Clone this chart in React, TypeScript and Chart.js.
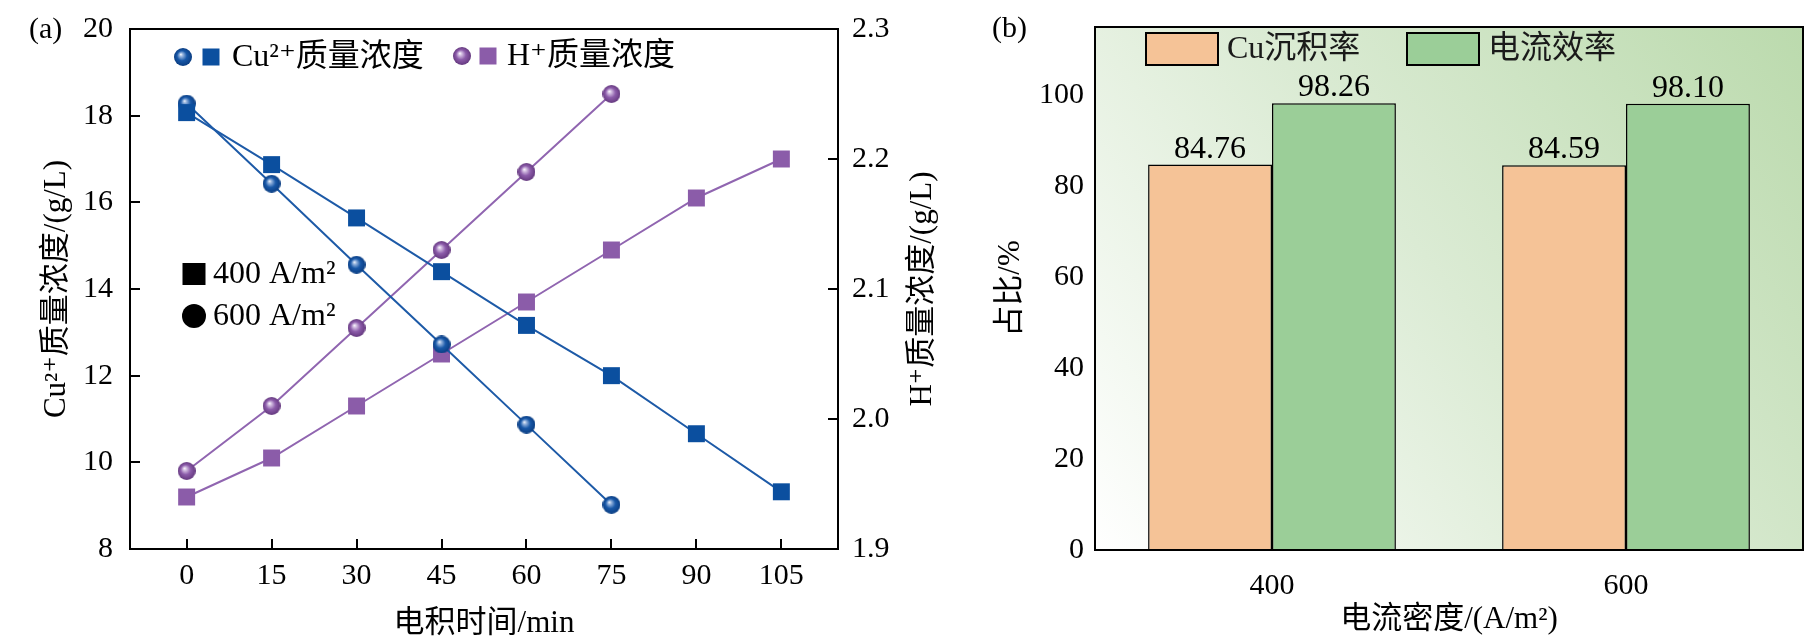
import { useEffect, useRef } from 'react';
import { Chart, registerables, type ChartConfiguration, type Plugin, type Scale } from 'chart.js';

Chart.register(...registerables);

const FONT = '"Liberation Serif", "DejaVu Serif", "Noto Sans CJK SC", serif';
const TICK_FS = 30; // tick labels
const TITLE_FS = 31; // axis titles
const LEGEND_FS = 32; // legend + value labels

// (a) electrowinning time series
const timeTicks = [0, 15, 30, 45, 60, 75, 90, 105];
const time400 = [0, 15, 30, 45, 60, 75, 90, 105];
const time600 = [0, 15, 30, 45, 60, 75];
const cu400 = [18.07, 16.87, 15.64, 14.4, 13.16, 12.0, 10.66, 9.32];
const cu600 = [18.28, 16.43, 14.56, 12.72, 10.87, 9.02];
const h400 = [1.94, 1.97, 2.01, 2.05, 2.09, 2.13, 2.17, 2.2];
const h600 = [1.96, 2.01, 2.07, 2.13, 2.19, 2.25];
const cuTicks = [8, 10, 12, 14, 16, 18, 20];
const hTicks = [1.9, 2.0, 2.1, 2.2, 2.3];

// (b) deposition / current efficiency
const densities = ['400', '600'];
const depositRate = [84.76, 84.59];
const currentEff = [98.26, 98.1];
const pctTicks = [0, 20, 40, 60, 80, 100];

const BLUE = '#0b4f9f';
const BLUE_LINE = '#1d5aa7';
const PURPLE = '#8b5ca9';
const PURPLE_LINE = '#9065b0';
const ORANGE = '#f5c397';
const GREEN = '#9bce98';

const tickFont = { family: FONT, size: TICK_FS };
const titleFont = { family: FONT, size: TITLE_FS, lineHeight: 1 };

function sphere(base: string, light: string, dark: string, r = 9): HTMLCanvasElement {
  const c = document.createElement('canvas');
  c.width = r * 2;
  c.height = r * 2;
  const g = c.getContext('2d')!;
  const grad = g.createRadialGradient(r * 0.75, r * 0.7, 0, r, r, r);
  grad.addColorStop(0, '#ffffff');
  grad.addColorStop(0.18, light);
  grad.addColorStop(0.55, base);
  grad.addColorStop(1, dark);
  g.fillStyle = grad;
  g.beginPath();
  g.arc(r, r, r, 0, Math.PI * 2);
  g.fill();
  return c;
}

const pts = (xs: number[], ys: number[]) => xs.map((x, i) => ({ x, y: ys[i] }));

// fix the scale's size and stop its label padding from moving the chart area
function fixSize(dim: 'width' | 'height', px: number) {
  return (s: Scale) => {
    s[dim] = px;
    const p = s as any;
    p.paddingTop = p.paddingBottom = p.paddingLeft = p.paddingRight = 0;
  };
}

// negative tick length = tick marks pointing into the plot
function inwardAxis(tickLength: number) {
  return {
    grid: { drawOnChartArea: false, tickLength, color: '#000', lineWidth: 2 },
    border: { display: true, color: '#000', width: 2 },
  };
}

function LeftChart() {
  const ref = useRef<HTMLCanvasElement>(null);
  useEffect(() => {
    if (!ref.current) return;
    const blueBall = sphere('#1858a8', '#9bb8e0', '#0a3d82');
    const purpleBall = sphere('#8c5caa', '#d6c2e4', '#65397f');

    const decor: Plugin<'line'> = {
      id: 'decorA',
      afterDraw(chart) {
        const { ctx, chartArea: a } = chart;
        ctx.save();
        ctx.strokeStyle = '#000';
        ctx.lineWidth = 2;
        ctx.strokeRect(a.left, a.top, a.right - a.left, a.bottom - a.top);
        ctx.fillStyle = '#000';
        ctx.textBaseline = 'middle';
        ctx.textAlign = 'left';
        ctx.font = `${TICK_FS}px ${FONT}`;
        ctx.fillText('(a)', 29, 30);

        // series legend
        ctx.font = `${LEGEND_FS}px ${FONT}`;
        ctx.drawImage(blueBall, 183 - 9, 57 - 9);
        ctx.fillStyle = BLUE;
        ctx.fillRect(211 - 8.5, 57 - 8.5, 17, 17);
        ctx.fillStyle = '#000';
        ctx.fillText('Cu²⁺质量浓度', 232, 58);
        ctx.drawImage(purpleBall, 462 - 9, 56 - 9);
        ctx.fillStyle = PURPLE;
        ctx.fillRect(488 - 8.5, 56 - 8.5, 17, 17);
        ctx.fillStyle = '#000';
        ctx.fillText('H⁺质量浓度', 507, 57);

        // marker legend
        ctx.fillRect(194 - 11.5, 274 - 11, 23, 22);
        ctx.fillText('400 A/m²', 213, 275);
        ctx.beginPath();
        ctx.arc(194, 316, 12, 0, Math.PI * 2);
        ctx.fill();
        ctx.fillText('600 A/m²', 213, 317);

        // right axis title (reads bottom to top)
        ctx.font = `${TITLE_FS}px ${FONT}`;
        ctx.translate(923, (a.top + a.bottom) / 2);
        ctx.rotate(-Math.PI / 2);
        ctx.textAlign = 'center';
        ctx.fillText('H⁺质量浓度/(g/L)', 0, 0);
        ctx.restore();
      },
    };

    const config: ChartConfiguration<'line'> = {
      type: 'line',
      data: {
        datasets: [
          { label: 'Cu 400', data: pts(time400, cu400), yAxisID: 'y', borderColor: BLUE_LINE, borderWidth: 2,
            pointStyle: 'rect', pointRadius: 12, pointBackgroundColor: BLUE, pointBorderWidth: 0 },
          { label: 'Cu 600', data: pts(time600, cu600), yAxisID: 'y', borderColor: BLUE_LINE, borderWidth: 2,
            pointStyle: blueBall, pointRadius: 9 },
          { label: 'H 400', data: pts(time400, h400), yAxisID: 'y1', borderColor: PURPLE_LINE, borderWidth: 2,
            pointStyle: 'rect', pointRadius: 12, pointBackgroundColor: PURPLE, pointBorderWidth: 0 },
          { label: 'H 600', data: pts(time600, h600), yAxisID: 'y1', borderColor: PURPLE_LINE, borderWidth: 2,
            pointStyle: purpleBall, pointRadius: 9 },
        ],
      },
      options: {
        animation: false,
        responsive: false,
        layout: { padding: { top: 29, left: 0, right: 0, bottom: 0 } },
        plugins: { legend: { display: false }, tooltip: { enabled: false } },
        scales: {
          x: {
            type: 'linear',
            min: -10,
            max: 115,
            afterBuildTicks: (s) => { s.ticks = timeTicks.map((value) => ({ value })); },
            afterFit: fixSize('height', 92),
            ticks: { padding: 19, color: '#000', font: tickFont },
            ...inwardAxis(-10),
            title: { display: true, text: '电积时间/min', color: '#000', font: titleFont, padding: { top: 0, bottom: 1.5 } },
          },
          y: {
            type: 'linear',
            position: 'left',
            min: 8,
            max: 20,
            afterBuildTicks: (s) => { s.ticks = cuTicks.map((value) => ({ value })); },
            afterFit: fixSize('width', 130),
            ticks: { padding: 27, color: '#000', font: tickFont },
            ...inwardAxis(-10),
            title: { display: true, text: 'Cu²⁺质量浓度/(g/L)', color: '#000', font: titleFont, padding: { top: 41, bottom: 0 } },
          },
          y1: {
            type: 'linear',
            position: 'right',
            min: 1.9,
            max: 2.3,
            afterBuildTicks: (s) => { s.ticks = hTicks.map((value) => ({ value })); },
            afterFit: fixSize('width', 132),
            ticks: { padding: 24, color: '#000', font: tickFont, callback: (v) => Number(v).toFixed(1) },
            ...inwardAxis(-10),
          },
        },
      },
      plugins: [decor],
    };
    const chart = new Chart(ref.current, config);
    return () => chart.destroy();
  }, []);
  return <canvas ref={ref} width={970} height={641} />;
}

function RightChart() {
  const ref = useRef<HTMLCanvasElement>(null);
  useEffect(() => {
    if (!ref.current) return;

    const decor: Plugin<'bar'> = {
      id: 'decorB',
      beforeDatasetsDraw(chart) {
        const { ctx, chartArea: a } = chart;
        const g = ctx.createLinearGradient(a.left, a.bottom, a.right, a.top);
        g.addColorStop(0, '#ffffff');
        g.addColorStop(0.5, '#dbebd4');
        g.addColorStop(1, '#bbdaad');
        ctx.save();
        ctx.fillStyle = g;
        ctx.fillRect(a.left, a.top, a.right - a.left, a.bottom - a.top);
        ctx.restore();
      },
      afterDraw(chart) {
        const { ctx, chartArea: a } = chart;
        ctx.save();
        ctx.strokeStyle = '#000';
        ctx.lineWidth = 2;
        ctx.strokeRect(a.left, a.top, a.right - a.left, a.bottom - a.top);
        ctx.fillStyle = '#000';
        ctx.textBaseline = 'middle';
        ctx.textAlign = 'left';
        ctx.font = `${TICK_FS}px ${FONT}`;
        ctx.fillText('(b)', 22, 29);

        // legend
        ctx.font = `${LEGEND_FS}px ${FONT}`;
        const items = [
          { x: 176, color: ORANGE, text: 'Cu沉积率' },
          { x: 437, color: GREEN, text: '电流效率' },
        ];
        items.forEach((it) => {
          ctx.fillStyle = it.color;
          ctx.fillRect(it.x, 33, 72, 32);
          ctx.strokeRect(it.x, 33, 72, 32);
          ctx.fillStyle = '#1a1a1a';
          ctx.fillText(it.text, it.x + 81, 50);
        });

        // value labels
        ctx.fillStyle = '#000';
        ctx.textAlign = 'center';
        ctx.textBaseline = 'alphabetic';
        chart.data.datasets.forEach((ds, di) => {
          chart.getDatasetMeta(di).data.forEach((el, i) => {
            ctx.fillText(Number(ds.data[i]).toFixed(2), el.x, el.y - 7);
          });
        });
        ctx.restore();
      },
    };

    const config: ChartConfiguration<'bar'> = {
      type: 'bar',
      data: {
        labels: densities,
        datasets: [
          { label: 'Cu沉积率', data: depositRate, backgroundColor: ORANGE, borderColor: '#000', borderWidth: 1.5 },
          { label: '电流效率', data: currentEff, backgroundColor: GREEN, borderColor: '#000', borderWidth: 1.5 },
        ],
      },
      options: {
        animation: false,
        responsive: false,
        categoryPercentage: 0.7,
        barPercentage: 1.0,
        layout: { padding: { top: 27, left: 0, right: 6, bottom: 0 } },
        plugins: { legend: { display: false }, tooltip: { enabled: false } },
        scales: {
          x: {
            afterFit: fixSize('height', 91),
            grid: { display: false },
            border: { display: true, color: '#000', width: 2 },
            ticks: { padding: 10.5, color: '#000', font: tickFont },
            title: { display: true, text: '电流密度/(A/m²)', color: '#000', font: titleFont, padding: { top: 0, bottom: 5.5 } },
          },
          y: {
            min: 0,
            max: 115,
            afterBuildTicks: (s) => { s.ticks = pctTicks.map((value) => ({ value })); },
            afterFit: fixSize('width', 125),
            ticks: { padding: 22, color: '#000', font: tickFont },
            ...inwardAxis(-11),
            title: { display: true, text: '占比/%', color: '#000', font: titleFont, padding: { top: 25, bottom: 0 } },
          },
        },
      },
      plugins: [decor],
    };
    const chart = new Chart(ref.current, config);
    return () => chart.destroy();
  }, []);
  return <canvas ref={ref} width={839} height={641} />;
}

export default function App() {
  return (
    <div style={{ position: 'relative', width: 1809, height: 641, background: '#fff' }}>
      <style>{'body{margin:0}'}</style>
      <div style={{ position: 'absolute', left: 0, top: 0 }}>
        <LeftChart />
      </div>
      <div style={{ position: 'absolute', left: 970, top: 0 }}>
        <RightChart />
      </div>
    </div>
  );
}
